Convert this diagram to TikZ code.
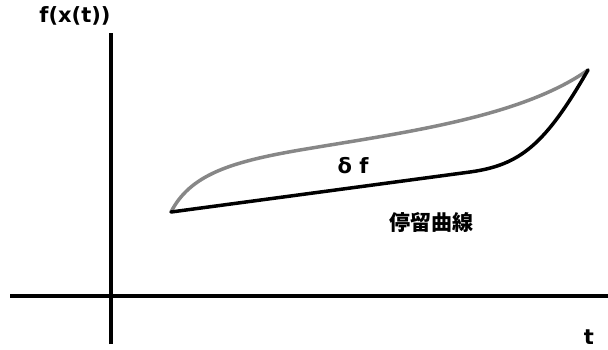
\documentclass[tikz,border=0pt]{standalone}
\usepackage{fontspec}
\setmainfont{DejaVu Sans}
\newfontfamily\cjk{Noto Sans CJK JP}
\begin{document}
\begin{tikzpicture}[x=1pt,y=-1pt,
  axis/.style={line width=3.5pt,black},
  curve/.style={line width=3.5pt,line cap=round,line join=round},
  lbl/.style={font=\bfseries\fontsize{21}{23}\selectfont,inner sep=0pt}]
\useasboundingbox (0,0) rectangle (608,349);
\coordinate (ytop) at (111,33);
\coordinate (ybot) at (111,344);
\coordinate (xl) at (10,296);
\coordinate (xr) at (608,296);
\draw[axis] (ybot) -- (ytop);
\draw[axis] (xl) -- (xr);
\coordinate (A) at (171,212);
\coordinate (B) at (588,70);
\draw[curve,color={rgb,255:red,135;green,135;blue,135}] (A) .. controls (190,175) and (230,162) .. (300,150)
  .. controls (400,133) and (520,118) .. (B);
\draw[curve,black] (A) -- (470,172) .. controls (520,165) and (545,145) .. (B);
\node[lbl] (fx) at (75,16) {f(x(t))};
\node[lbl] (df) at (353,166) {δ f};
\node[lbl,font=\cjk\bfseries\fontsize{21}{23}\selectfont] (sc) at (431,222) {停留曲線};
\node[lbl] (t) at (589,337) {t};
\end{tikzpicture}
\end{document}
